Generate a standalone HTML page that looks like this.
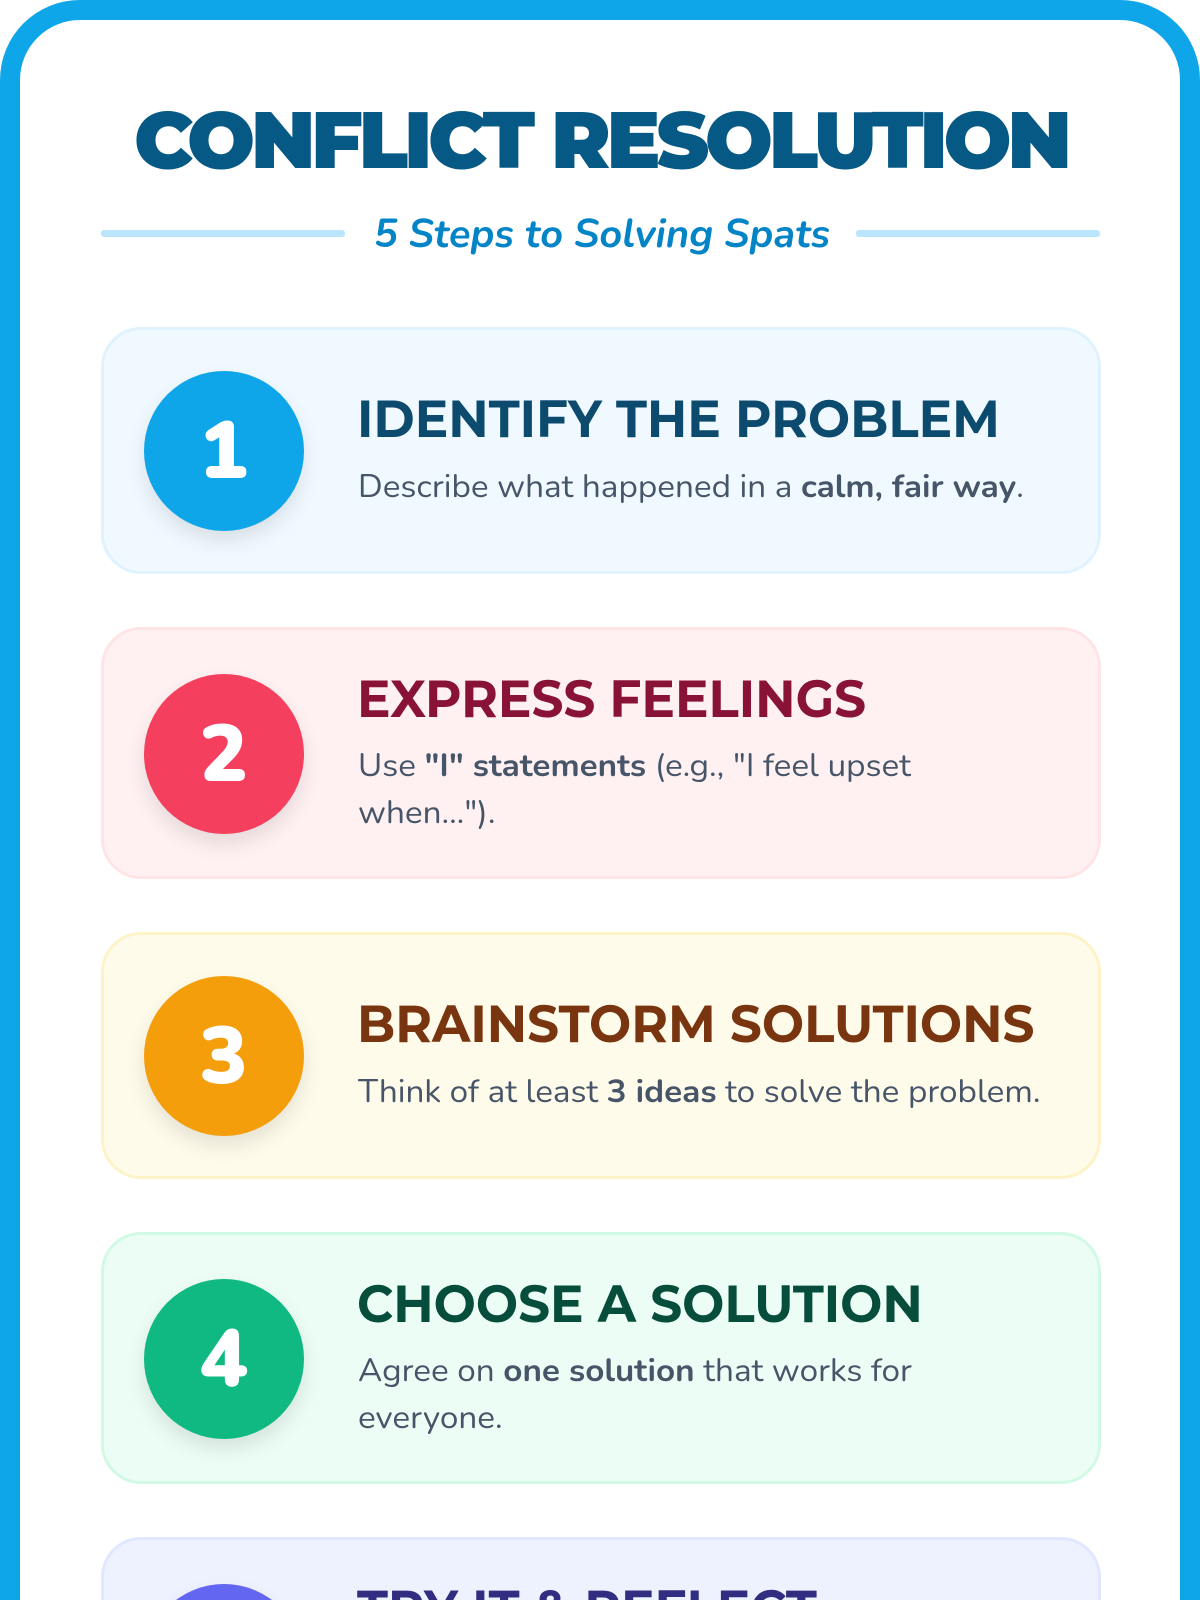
<!DOCTYPE html>
<html>
<head>
<meta charset="utf-8">
<style>
*{box-sizing:border-box;margin:0;padding:0}
html,body{width:1200px;height:1600px;overflow:hidden;background:#fff}
#w{position:relative;width:1200px;height:1600px;overflow:hidden;background:#fff}
.frame{position:absolute;left:0;top:0;width:1200px;height:1600px;border:20px solid #0ea5e9;border-bottom:0;border-radius:80px 80px 0 0;background:#fff}
.t{position:absolute;left:1px;top:97px;width:1200px;text-align:center;font:900 80px/88px Montserrat,"Liberation Sans",sans-serif;color:#075985;letter-spacing:-4px;white-space:nowrap}
.ln{position:absolute;top:230px;height:7px;background:#bae6fd;border-radius:3px}
.s{position:absolute;left:2px;top:210px;width:1200px;text-align:center;font:italic 700 40px/50px Nunito,"Liberation Sans",sans-serif;color:#0284c7;white-space:nowrap}
.c{position:absolute;left:100.5px;width:1000px;border:3px solid;border-radius:40px;overflow:hidden}
.n{position:absolute;left:40px;width:160px;height:160px;border-radius:50%;color:#fff;font:900 80px/164px Nunito,"Liberation Sans",sans-serif;text-align:center;box-shadow:0 10px 20px rgba(0,0,0,.1)}
h2{position:absolute;left:253.5px;white-space:nowrap;font:700 52px/60px Montserrat,"Liberation Sans",sans-serif;transform-origin:0 0;transform:scaleX(.962)}
p{position:absolute;left:254px;width:700px;font:400 32px/47px Nunito,"Liberation Sans",sans-serif;color:#475569;white-space:nowrap;transform-origin:0 0;transform:scaleX(1.04)}
p b{font-weight:700}
</style>
</head>
<body>
<div id="w">
<div class="frame"></div>
<div class="t">CONFLICT RESOLUTION</div>
<div class="ln" style="left:101px;width:244px"></div>
<div class="ln" style="left:856px;width:244px"></div>
<div class="s">5 Steps to Solving Spats</div>

<div class="c" style="top:327px;height:246.5px;background:#f0f9ff;border-color:#e0f2fe">
  <div class="n" style="top:40.5px;background:#0ea5e9">1</div>
  <h2 style="top:60px;color:#0c4a6e">IDENTIFY THE PROBLEM</h2>
  <p style="top:134px">Describe what happened in a <b>calm, fair way</b>.</p>
</div>

<div class="c" style="top:627px;height:251.5px;background:#fff1f2;border-color:#ffe4e6">
  <div class="n" style="top:43.5px;background:#f43f5e">2</div>
  <h2 style="top:40px;color:#881337">EXPRESS FEELINGS</h2>
  <p style="top:113px">Use <b>"I" statements</b> (e.g., "I feel upset<br>when...").</p>
</div>

<div class="c" style="top:932px;height:246.5px;background:#fffbeb;border-color:#fef3c7">
  <div class="n" style="top:40.5px;background:#f59e0b">3</div>
  <h2 style="top:60px;color:#78350f">BRAINSTORM SOLUTIONS</h2>
  <p style="top:134px">Think of at least <b>3 ideas</b> to solve the problem.</p>
</div>

<div class="c" style="top:1232px;height:251.5px;background:#ecfdf5;border-color:#d1fae5">
  <div class="n" style="top:43.5px;background:#10b981">4</div>
  <h2 style="top:40px;color:#064e3b">CHOOSE A SOLUTION</h2>
  <p style="top:113px">Agree on <b>one solution</b> that works for<br>everyone.</p>
</div>

<div class="c" style="top:1537px;height:63px;border-bottom:0;border-radius:40px 40px 0 0;background:#eef2ff;border-color:#e0e7ff">
  <div class="n" style="top:43.5px;background:#6366f1">5</div>
  <h2 style="top:40px;color:#312e81">TRY IT &amp; REFLECT</h2>
</div>
</div>
</body>
</html>
